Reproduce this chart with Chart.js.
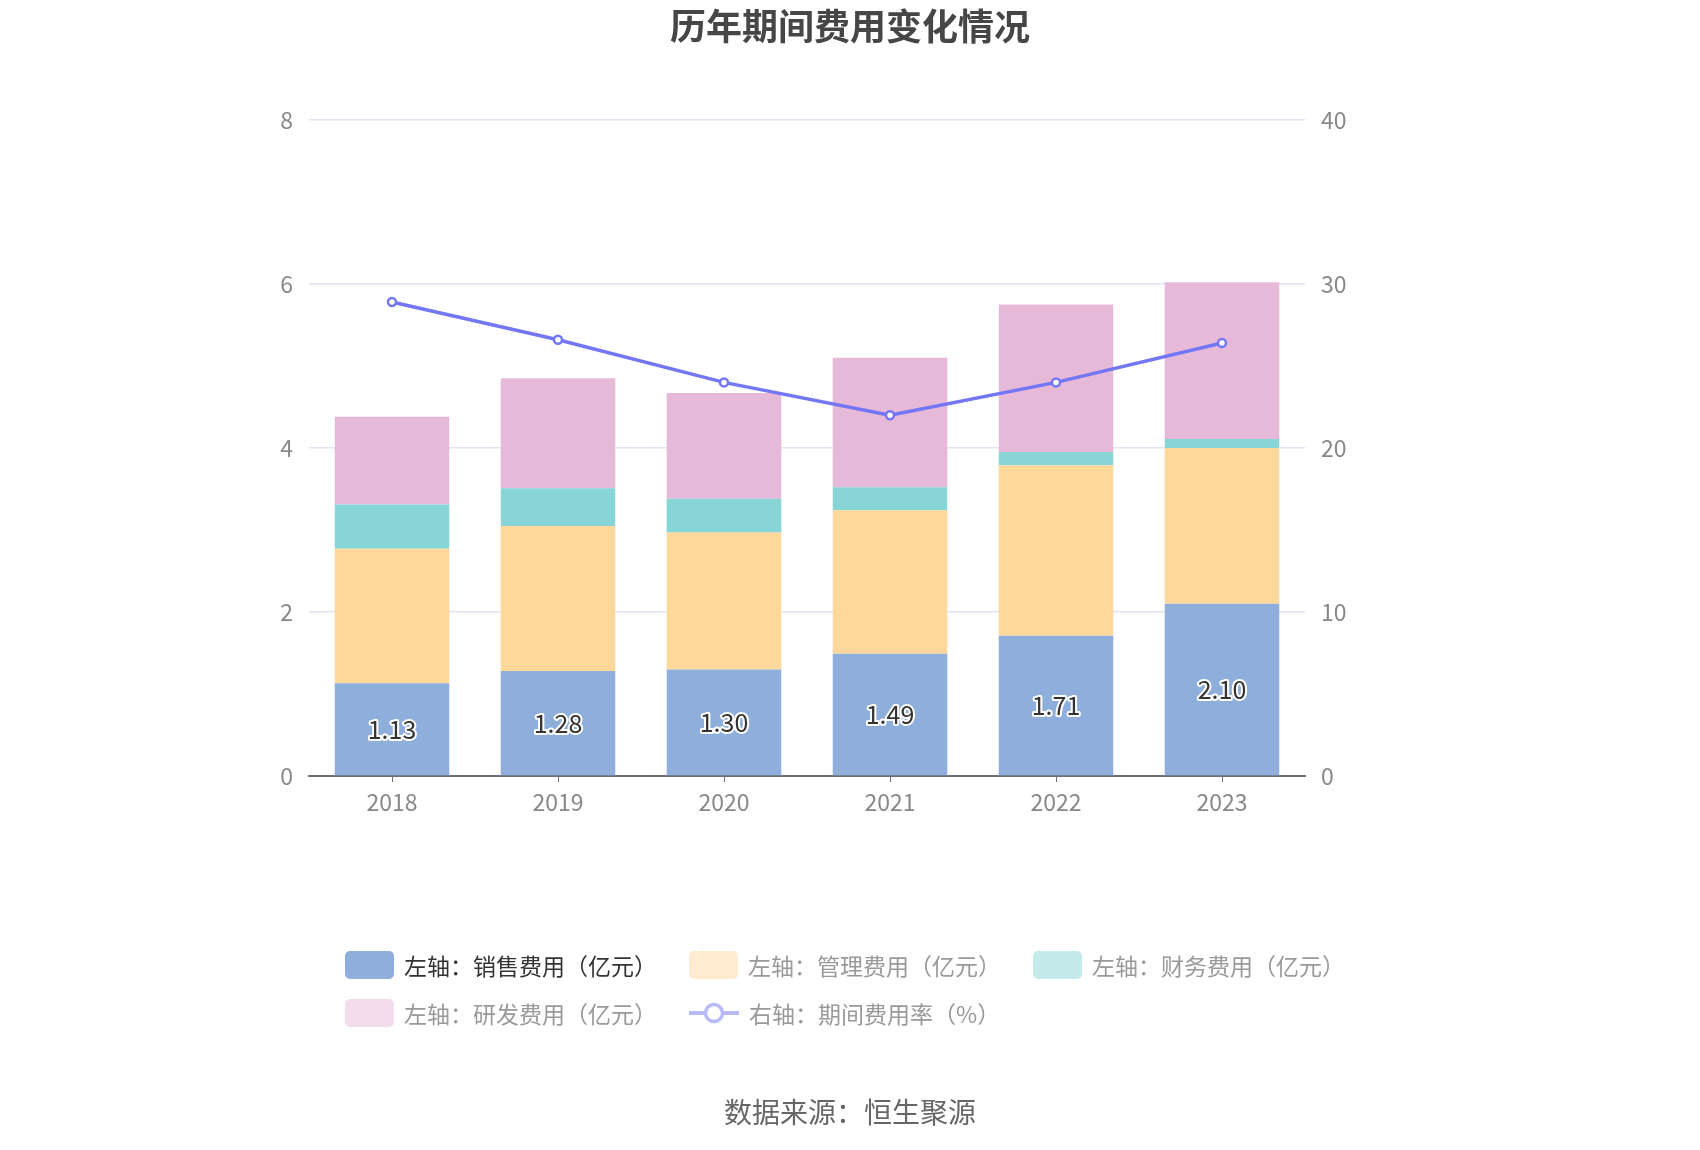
<!DOCTYPE html>
<html>
<head>
<meta charset="utf-8">
<title>历年期间费用变化情况</title>
<script src="https://cdn.jsdelivr.net/npm/chart.js@4.4.1/dist/chart.umd.min.js"></script>
<style>
    body { margin: 0; background: #fff; font-family: "Noto Sans CJK SC", "Noto Sans", sans-serif; }
    #wrap { position: relative; width: 1700px; height: 1150px; }
    #title { position: absolute; left: 0; width: 1700px; top: 2px; text-align: center;
             font-size: 36px; font-weight: 700; color: #464646; line-height: 44px; }
    #legend { position: absolute; left: 345px; top: 951px; width: 1020px;
              display: flex; flex-wrap: wrap; column-gap: 32px; row-gap: 20px; }
    .item { display: flex; align-items: center; height: 28px; font-size: 23px; color: #999; white-space: nowrap; }
    .item.on { color: #333; }
    .box { width: 49px; height: 28px; border-radius: 5px; margin-right: 10px; }
    .item svg { margin-right: 10px; }
    #source { position: absolute; left: 0; width: 1700px; top: 1091px; text-align: center;
              font-size: 28px; color: #666; line-height: 40px; }
</style>
</head>
<body>
<div id="wrap">
    <canvas id="chart" width="1700" height="1150"></canvas>
    <div id="title">历年期间费用变化情况</div>
    <div id="legend"></div>
    <div id="source">数据来源：恒生聚源</div>
</div>
<script>
// chart data
const years = ['2018', '2019', '2020', '2021', '2022', '2023'];
const salesCost = [1.13, 1.28, 1.30, 1.49, 1.71, 2.10];
const adminCost = [1.64, 1.77, 1.67, 1.75, 2.08, 1.90];
const financeCost = [0.54, 0.46, 0.41, 0.28, 0.16, 0.11];
const rdCost = [1.07, 1.34, 1.29, 1.58, 1.80, 1.91];
const expenseRate = [28.9, 26.6, 24.0, 22.0, 24.0, 26.4];
const leftTicks = [0, 2, 4, 6, 8];
const rightTicks = [0, 10, 20, 30, 40];

const seriesNames = [
    '左轴：销售费用（亿元）',
    '左轴：管理费用（亿元）',
    '左轴：财务费用（亿元）',
    '左轴：研发费用（亿元）',
    '右轴：期间费用率（%）'
];

const colors = {
    sales: '#8eaedb',
    admin: '#fed89b',
    finance: '#88d5d8',
    rd: '#e7b9d8',
    rate: '#7376f5'
};
// greyed-out legend swatches, as in the reference
const legendColors = ['#8eaedb', '#ffecd0', '#c3ebec', '#f3dded', '#b9bafa'];

Chart.defaults.font.family = '"Noto Sans CJK SC", "Noto Sans", sans-serif';

// value labels in the middle of the first bar series
const barLabels = {
    id: 'barLabels',
    afterDatasetsDraw(chart) {
        const ctx = chart.ctx;
        const meta = chart.getDatasetMeta(0);
        ctx.save();
        ctx.font = '25px "Noto Sans CJK SC", "Noto Sans", sans-serif';
        ctx.textAlign = 'center';
        ctx.textBaseline = 'middle';
        ctx.lineJoin = 'round';
        meta.data.forEach((bar, i) => {
            const text = salesCost[i].toFixed(2);
            const y = (bar.y + bar.base) / 2;
            ctx.lineWidth = 4;
            ctx.strokeStyle = '#fff';
            ctx.strokeText(text, bar.x, y);
            ctx.fillStyle = '#333';
            ctx.fillText(text, bar.x, y);
        });
        ctx.restore();
    }
};

function barSet(label, data, color) {
    return {
        type: 'bar',
        label: label,
        data: data,
        backgroundColor: color,
        yAxisID: 'y',
        stack: 'cost',
        categoryPercentage: 1,
        barPercentage: 0.69,
        order: 1
    };
}

const ctx = document.getElementById('chart').getContext('2d');
const chart = new Chart(ctx, {
    data: {
        labels: years,
        datasets: [
            barSet(seriesNames[0], salesCost, colors.sales),
            barSet(seriesNames[1], adminCost, colors.admin),
            barSet(seriesNames[2], financeCost, colors.finance),
            barSet(seriesNames[3], rdCost, colors.rd),
            {
                type: 'line',
                label: seriesNames[4],
                data: expenseRate,
                yAxisID: 'y1',
                borderColor: colors.rate,
                borderWidth: 3.5,
                pointRadius: 4,
                pointBorderWidth: 2.5,
                pointBackgroundColor: '#fff',
                pointBorderColor: colors.rate,
                tension: 0,
                order: 0
            }
        ]
    },
    options: {
        responsive: false,
        animation: false,
        layout: {
            padding: { left: 249, right: 335, top: 120, bottom: 324 }
        },
        plugins: {
            legend: { display: false },
            tooltip: { enabled: false }
        },
        scales: {
            x: {
                stacked: true,
                afterFit: s => { s.height = 50; },
                border: { color: '#6e7079', width: 2 },
                grid: {
                    offset: false,
                    drawOnChartArea: false,
                    drawTicks: true,
                    tickLength: 6,
                    color: '#6e7079'
                },
                ticks: { color: '#888', font: { size: 23 }, padding: 6 }
            },
            y: {
                position: 'left',
                stacked: true,
                min: 0,
                max: leftTicks[leftTicks.length - 1],
                afterFit: s => { s.width = 60; },
                afterBuildTicks: s => { s.ticks = leftTicks.map(v => ({ value: v })); },
                border: { display: false },
                grid: { color: '#e0e6f1', lineWidth: 1.5, drawTicks: false },
                ticks: { color: '#888', font: { size: 23 }, padding: 16 }
            },
            y1: {
                position: 'right',
                min: 0,
                max: rightTicks[rightTicks.length - 1],
                afterFit: s => { s.width = 60; },
                afterBuildTicks: s => { s.ticks = rightTicks.map(v => ({ value: v })); },
                border: { display: false },
                grid: { drawOnChartArea: false, drawTicks: false },
                ticks: { color: '#888', font: { size: 23 }, padding: 16 }
            }
        }
    },
    plugins: [barLabels]
});

// legend below the plot, rows start from the left like the reference
const legend = document.getElementById('legend');
seriesNames.forEach((name, i) => {
    const item = document.createElement('div');
    item.className = 'item' + (i === 0 ? ' on' : '');
    let icon;
    if (i === 4) {
        icon = `<svg width="50" height="28"><line x1="0" y1="14" x2="50" y2="14" stroke="${legendColors[i]}" stroke-width="4"/>` +
               `<circle cx="25" cy="14" r="8.5" fill="#fff" stroke="${legendColors[i]}" stroke-width="3.5"/></svg>`;
    } else {
        icon = `<div class="box" style="background:${legendColors[i]}"></div>`;
    }
    item.innerHTML = icon + `<span>${name}</span>`;
    legend.appendChild(item);
});
</script>
</body>
</html>
